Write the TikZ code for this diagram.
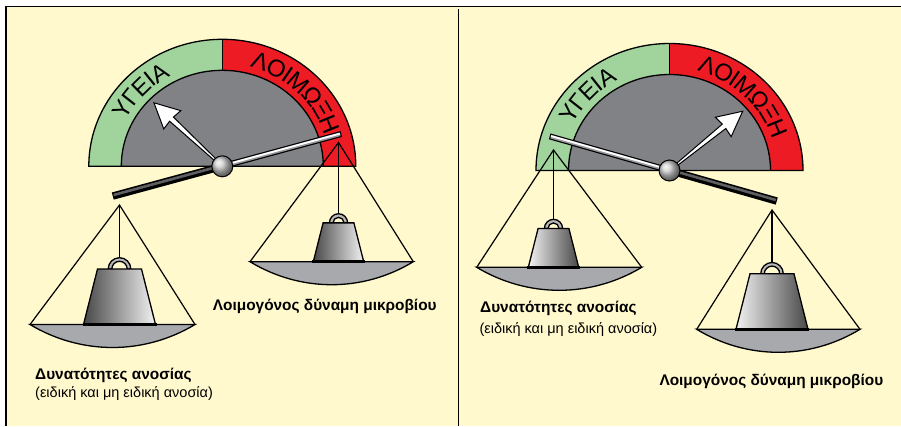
\documentclass[tikz,border=0pt]{standalone}
\usepackage{fontspec}
\setmainfont{Liberation Sans}
\usetikzlibrary{calc}

\definecolor{paper}{RGB}{255,249,205}
\definecolor{healthgreen}{RGB}{161,212,156}
\definecolor{infectred}{RGB}{237,28,36}
\definecolor{dialgray}{RGB}{128,130,133}
\definecolor{pangray}{RGB}{167,169,172}
\definecolor{barmid}{RGB}{95,95,98}
\definecolor{barlow}{RGB}{150,150,154}

\tikzset{
  frame/.style={draw=black, line width=1.6pt},
  outline/.style={draw=black, line width=1.3pt},
  cord/.style={draw=black, line width=1.2pt},
  dialletter/.style={font=\fontsize{24}{24}\selectfont, inner sep=0pt},
  caption/.style={font=\bfseries\fontsize{15.4}{18}\selectfont, anchor=base west, inner sep=0pt},
  subcaption/.style={font=\fontsize{14.5}{17}\selectfont, anchor=base west, inner sep=0pt},
}

% dial face in local y-up coordinates, origin at the pivot
\newcommand{\dialface}[1]{%
  \fill[healthgreen] (-133.5,0) arc[start angle=180,end angle=90,x radius=133.5,y radius=127]
      -- (0,96) arc[start angle=90,end angle=180,x radius=101,y radius=96] -- cycle;
  \fill[infectred] (0,127) arc[start angle=90,end angle=0,x radius=133.5,y radius=127]
      -- (101,0) arc[start angle=0,end angle=90,x radius=101,y radius=96] -- cycle;
  \fill[dialgray] (-101,0) arc[start angle=180,end angle=0,x radius=101,y radius=96] -- cycle;
  \draw[outline] (-101,0) arc[start angle=180,end angle=0,x radius=101,y radius=96];
  \draw[outline] (0,96) -- (0,127);
  \draw[outline] (-133.5,0) arc[start angle=180,end angle=0,x radius=133.5,y radius=127] -- cycle;
  \foreach \ang/\ch [count=\i] in {149.3/Υ,141.8/Γ,134.3/Ε,128.5/Ι,122.7/Α}
    \node[dialletter, rotate=\ang-90] (#1h\i) at ({116*cos(\ang)},{111*sin(\ang)}) {\ch};
  \foreach \ang/\ch [count=\i] in {71.0/Λ,62.1/Ο,55.7/Ι,48.8/Μ,39.1/Ω,30.5/Ξ,22.1/Η}
    \node[dialletter, rotate=\ang-90] (#1i\i) at ({116*cos(\ang)},{111*sin(\ang)}) {\ch};
}

% white pointer arrow: #1 angle, #2 length
\newcommand{\needle}[2]{%
  \begin{scope}[rotate=#1]
    \draw[fill=white, line width=1pt, line join=miter]
      (6,-1) -- ({#2-24},-2.8) -- ({#2-25},-12.5) -- (#2,0)
      -- ({#2-25},12.5) -- ({#2-24},2.8) -- (6,1) -- cycle;
  \end{scope}
}

% beam halves along the local x axis
\newcommand{\darkbar}[2]{%
  \draw[line width=7.4pt] (#1,0) -- (#2,0);
  \draw[line width=2.6pt, barmid] ({#1+1.2},0.8) -- ({#2-1.2},0.8);
}
\newcommand{\lightbar}[2]{%
  \draw[line width=6pt] (#1,0) -- (#2,0);
  \draw[line width=3.6pt, barlow] ({#1+1.2},0) -- ({#2-1.2},0);
  \draw[line width=1.8pt, white] ({#1+1.2},0.7) -- ({#2-1.2},0.7);
}

% pan with its cords: #1 name, #2 apex x, #3 apex y, #4 left x, #5 right x, #6 rim y, #7 depth
\newcommand{\scalepan}[7]{%
  \coordinate (#1apex) at (#2,#3);
  \coordinate (#1l) at (#4,#6);
  \coordinate (#1r) at (#5,#6);
  \pgfmathsetmacro\panK{0.31*(#5-#4)}
  \pgfmathsetmacro\panH{#7/0.75}
  \filldraw[fill=pangray, outline] (#1l) .. controls ($(#1l)+(\panK,\panH)$) and ($(#1r)+(-\panK,\panH)$) .. (#1r) -- cycle;
  \draw[cord] (#1l) -- (#1apex) -- (#1r);
}

% weight standing on a pan: #1 name, #2 x, #3 base y, #4 scale, #5 left colour, #6 right colour
\newcommand{\weight}[6]{%
  \pgfmathsetmacro\wTop{#3-55.5*#4}
  \pgfmathsetmacro\wTh{22*#4}
  \pgfmathsetmacro\wBh{36*#4}
  \pgfmathsetmacro\wRo{4+7.3*#4}
  \pgfmathsetmacro\wRi{\wRo-3.6}
  \filldraw[fill=gray!55, outline] ({#2+\wRo},\wTop) arc[start angle=0,end angle=-180,radius=\wRo]
      -- ({#2-\wRi},\wTop) arc[start angle=-180,end angle=0,radius=\wRi] -- cycle;
  \shade[left color=#5, right color=#6] ({#2-\wBh},#3) -- ({#2-\wTh},\wTop) -- ({#2+\wTh},\wTop) -- ({#2+\wBh},#3) -- cycle;
  \draw[outline] ({#2-\wBh},#3) -- ({#2-\wTh},\wTop) -- ({#2+\wTh},\wTop) -- ({#2+\wBh},#3);
  \draw[line width=2.6pt] ({#2-\wBh-1},#3) -- ({#2+\wBh+1},#3);
  \coordinate (#1hook) at (#2,{\wTop-\wRo});
}

\begin{document}
\begin{tikzpicture}[x=1pt,y=-1pt]
\useasboundingbox (0,0) rectangle (901,426);
\fill[white] (0,0) rectangle (901,426);
\fill[paper] (5.7,6.3) rectangle (901,426);
\draw[frame] (5.7,426) -- (5.7,6.3) -- (901,6.3);
\draw[frame] (458.5,9) -- (458.5,426);

% ---------- left balance: immunity outweighs ----------
\coordinate (pivL) at (222.3,166.3);
\begin{scope}[shift={(pivL)}, y=1pt]
  \dialface{L}
  \needle{137.1}{93.3}
\end{scope}

\scalepan{La}{119.5}{205}{30}{195}{324.5}{23}
\draw[cord] (Laapex) -- (119.5,260);
\weight{La}{119.5}{324.5}{1}{black!72}{black!5}
\draw[cord] (Laapex) -- (Lahook);

\scalepan{Lb}{338.5}{142.5}{250}{413.3}{261.7}{23}
\weight{Lb}{338.5}{261.7}{0.7}{black!72}{black!5}
\draw[cord] (Lbapex) -- (Lbhook);

\begin{scope}[shift={(pivL)}, y=1pt, rotate=15.2]
  \darkbar{-113.5}{0}
  \lightbar{0}{123.3}
\end{scope}
\shade[ball color=gray!40] (pivL) circle[radius=10.5];
\draw[line width=1pt] (pivL) circle[radius=10.5];

\node[caption] (lvir) at (212.7,310) {Λοιμογόνος δύναμη μικροβίου};
\node[caption] (limm) at (35,379.3) {Δυνατότητες ανοσίας};
\node[subcaption] (limmsub) at (35,397.5) {(ειδική και μη ειδική ανοσία)};

% ---------- right balance: virulence outweighs ----------
\coordinate (pivR) at (669.5,170.5);
\begin{scope}[shift={(pivR)}, y=1pt]
  \dialface{R}
  \needle{39}{94.2}
\end{scope}

\scalepan{Ra}{553.5}{150}{476.7}{641.7}{267.3}{23}
\weight{Ra}{553.5}{267.3}{0.7}{black!5}{black!72}
\draw[cord] (Raapex) -- (Rahook);

\scalepan{Rb}{772}{210}{696.7}{860}{329.3}{23}
\weight{Rb}{772}{329.3}{1}{black!5}{black!72}
\draw[cord] (Rbapex) -- (Rbhook);

\begin{scope}[shift={(pivR)}, y=1pt, rotate=-15.9]
  \lightbar{-124.6}{0}
  \darkbar{0}{111.5}
\end{scope}
\shade[ball color=gray!40] (pivR) circle[radius=10.5];
\draw[line width=1pt] (pivR) circle[radius=10.5];

\node[caption] (rimm) at (480,312.7) {Δυνατότητες ανοσίας};
\node[subcaption] (rimmsub) at (479.3,333.5) {(ειδική και μη ειδική ανοσία)};
\node[caption] (rvir) at (659.3,385.7) {Λοιμογόνος δύναμη μικροβίου};
\end{tikzpicture}
\end{document}
